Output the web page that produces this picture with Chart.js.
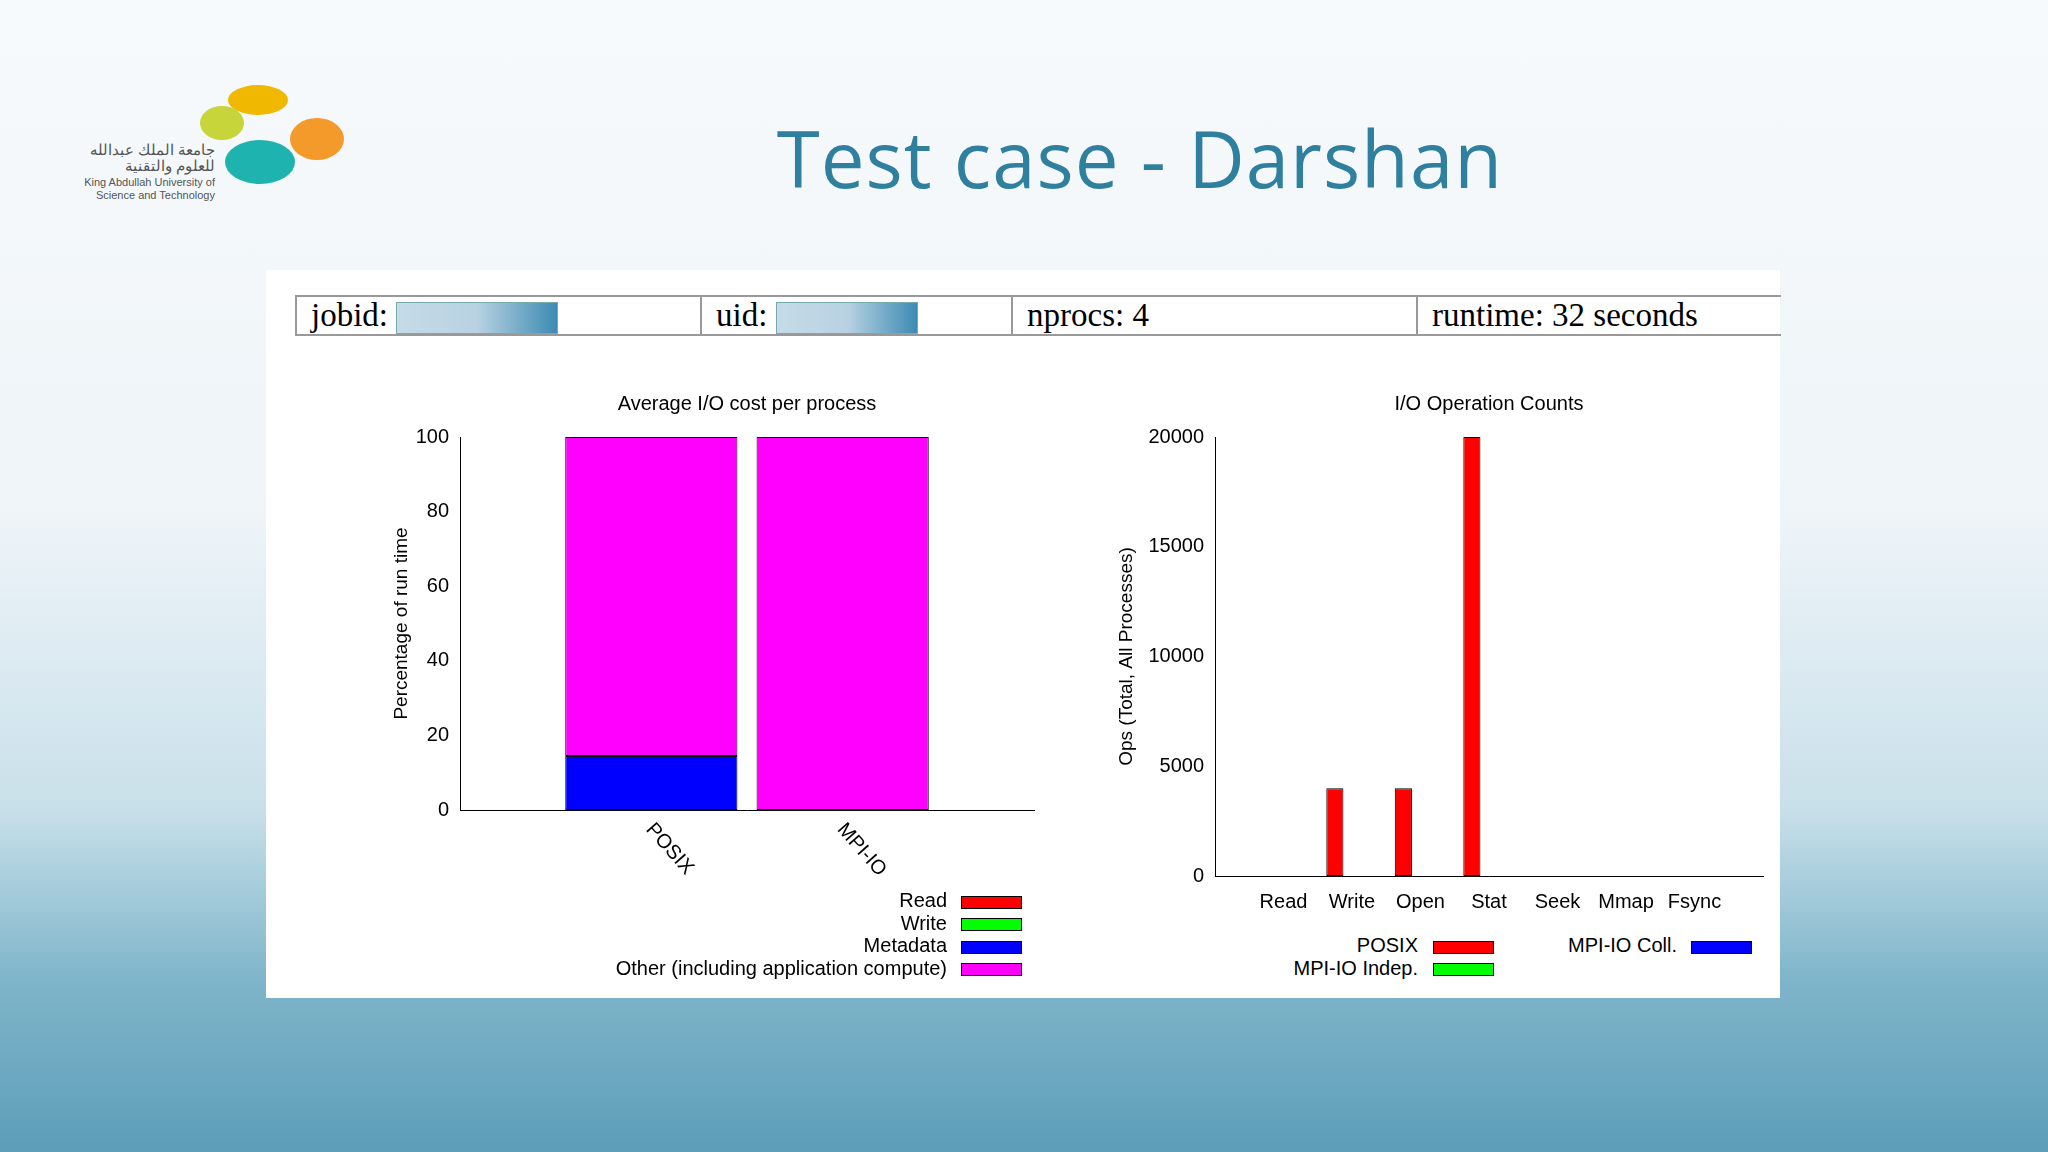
<!DOCTYPE html>
<html><head><meta charset="utf-8">
<script src="https://cdn.jsdelivr.net/npm/chart.js@4"></script>
<style>
body{margin:0;width:2048px;height:1152px;overflow:hidden;position:relative;font-family:"Liberation Sans",Arial,sans-serif;
background:linear-gradient(180deg,#f7fafc 0%,#eef4f8 45%,#c9e0ea 70%,#7fb5ca 85%,#5d9db8 100%);}
.abs{position:absolute}
#title{left:0;width:2280px;top:105px;text-align:center;font-family:"Open Sans","DejaVu Sans",sans-serif;font-size:78px;color:#2f7f9e;letter-spacing:1px}
#panel{left:266px;top:270px;width:1514px;height:728px;background:#fff}
table{position:absolute;left:295px;top:295px;border-collapse:collapse;font-family:"Liberation Serif","DejaVu Serif",serif;font-size:33px}
td{border:2px solid #999;height:38px;padding:0 14px;vertical-align:middle;box-sizing:border-box}
.blur{display:inline-block;width:160px;height:30px;vertical-align:middle;background:linear-gradient(90deg,#c5dbe8,#b8d2e2 50%,#3d8bb3);border:1px solid #7aa}
.leg{font-size:20px;color:#000;text-align:right}
.sw{position:absolute;height:11px;border:1px solid #000}
</style></head><body>
<div class="abs" style="left:228px;top:85px;width:60px;height:30px;border-radius:50%;background:#f0b800"></div>
<div class="abs" style="left:200px;top:106px;width:44px;height:34px;border-radius:50%;background:#c7d43a"></div>
<div class="abs" style="left:290px;top:118px;width:54px;height:42px;border-radius:50%;background:#f39a2a"></div>
<div class="abs" style="left:225px;top:140px;width:70px;height:44px;border-radius:50%;background:#1fb3b0"></div>
<div class="abs" style="left:40px;top:142px;width:175px;text-align:right;font-size:15px;color:#555;line-height:16px">جامعة الملك عبدالله<br>للعلوم والتقنية</div>
<div class="abs" style="left:40px;top:176px;width:175px;text-align:right;font-size:11px;color:#555;line-height:13px">King Abdullah University of<br>Science and Technology</div>
<div id="title" class="abs">Test case - Darshan</div>
<div id="panel" class="abs"></div>
<table style="width:1485px;table-layout:fixed"><tr>
<td style="width:405px">jobid: <span class="blur"></span></td>
<td style="width:311px">uid: <span class="blur" style="width:140px"></span></td>
<td style="width:405px">nprocs: 4</td>
<td style="width:364px;border-right:none">runtime: 32 seconds</td>
</tr></table>
<canvas id="c1" class="abs" style="left:370px;top:385px" width="700" height="520"></canvas>
<canvas id="c2" class="abs" style="left:1100px;top:385px" width="700" height="540"></canvas>
<div class="abs leg" style="left:500px;width:447px;top:889px;line-height:22.5px">Read<br>Write<br>Metadata<br>Other (including application compute)</div>
<div class="sw" style="left:961px;top:896px;width:59px;background:#f00"></div>
<div class="sw" style="left:961px;top:918px;width:59px;background:#0f0"></div>
<div class="sw" style="left:961px;top:941px;width:59px;background:#00f"></div>
<div class="sw" style="left:961px;top:963px;width:59px;background:#f0f"></div>
<div class="abs leg" style="left:1200px;width:218px;top:934px;line-height:22.5px">POSIX<br>MPI-IO Indep.</div>
<div class="abs leg" style="left:1500px;width:177px;top:934px">MPI-IO Coll.</div>
<div class="sw" style="left:1433px;top:941px;width:59px;background:#f00"></div>
<div class="sw" style="left:1433px;top:963px;width:59px;background:#0f0"></div>
<div class="sw" style="left:1691px;top:941px;width:59px;background:#00f"></div>
<script>
const ifaces=['','POSIX','MPI-IO',''];
const costRead=[null,0,0,null];
const costWrite=[null,0,0,null];
const costMeta=[null,14.5,0,null];
const costOther=[null,85.5,100,null];
const costTicks=[0,20,40,60,80,100];
const ops=['','Read','Write','Open','Stat','Seek','Mmap','Fsync',''];
const posixOps=[null,0,4000,4000,20000,0,0,0,null];
const indepOps=[null,0,0,0,0,0,0,0,null];
const collOps=[null,0,0,0,0,0,0,0,null];
const opsTicks=[0,5000,10000,15000,20000];
const F='"Liberation Sans",Arial,sans-serif';
Chart.defaults.font.family=F;Chart.defaults.font.size=20;Chart.defaults.color='#000';
Chart.defaults.animation=false;
function titlePlugin(t){return{id:'t',afterDraw(c){const x=c.ctx,a=c.chartArea;x.save();x.font='20px '+F;x.fillStyle='#000';x.textAlign='center';x.textBaseline='middle';x.fillText(t,(a.left+a.right)/2,a.top-33);x.restore();}}}
const rotLabels={id:'r',afterDraw(c){const x=c.ctx,s=c.scales.x;x.save();x.font='20px '+F;x.fillStyle='#000';
ifaces.forEach((l,i)=>{if(!l)return;const px=s.getPixelForValue(i);x.save();x.translate(px-2,c.chartArea.bottom+16);x.rotate(Math.PI*0.27);x.textBaseline='middle';x.fillText(l,0,0);x.restore();});x.restore();}};
const ds=(d,c)=>({data:d,backgroundColor:c,borderColor:'#000',borderWidth:1,borderSkipped:false});
new Chart(document.getElementById('c1'),{type:'bar',
data:{labels:ifaces,datasets:[ds(costRead,'#f00'),ds(costWrite,'#0f0'),ds(costMeta,'#00f'),ds(costOther,'#f0f')]},
options:{responsive:false,layout:{padding:{left:20,right:36,top:52}},
datasets:{bar:{barPercentage:0.9,categoryPercentage:1}},
plugins:{legend:{display:false},tooltip:{enabled:false}},
scales:{x:{stacked:true,offset:false,grid:{display:false},border:{color:'#000'},ticks:{display:false},afterFit:s=>{s.height=95}},
y:{stacked:true,min:0,max:100,grid:{display:false},border:{color:'#000'},afterBuildTicks:s=>{s.ticks=costTicks.map(v=>({value:v}))},afterFit:s=>{s.width=70},
title:{display:true,text:'Percentage of run time',font:{size:19},padding:0}}}},
plugins:[titlePlugin('Average I/O cost per process'),rotLabels]});
new Chart(document.getElementById('c2'),{type:'bar',
data:{labels:ops,datasets:[ds(posixOps,'#f00'),ds(indepOps,'#0f0'),ds(collOps,'#00f')]},
options:{responsive:false,layout:{padding:{left:15,right:37,top:52}},
datasets:{bar:{barPercentage:1,categoryPercentage:0.75}},
plugins:{legend:{display:false},tooltip:{enabled:false}},
scales:{x:{offset:false,grid:{display:false},border:{color:'#000'},ticks:{padding:6,autoSkip:false,maxRotation:0},afterFit:s=>{s.height=49}},
y:{min:0,max:20000,grid:{display:false},border:{color:'#000'},afterBuildTicks:s=>{s.ticks=opsTicks.map(v=>({value:v}))},afterFit:s=>{s.width=100},
ticks:{callback:v=>String(v)},
title:{display:true,text:'Ops (Total, All Processes)',font:{size:19},padding:0}}}},
plugins:[titlePlugin('I/O Operation Counts')]});
</script></body></html>
